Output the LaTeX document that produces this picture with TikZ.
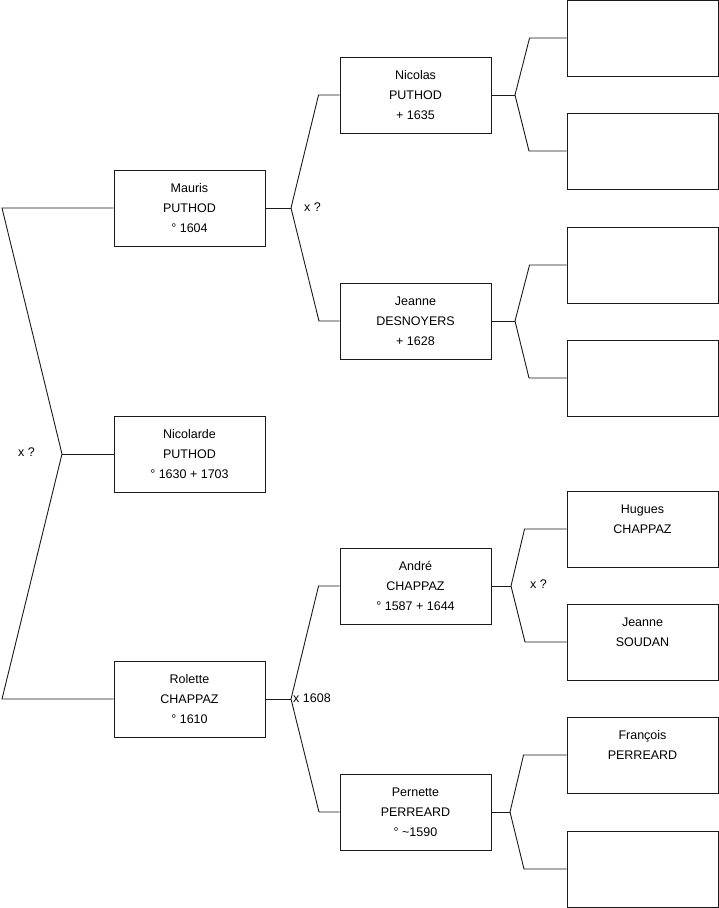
\documentclass[tikz,border=0pt]{standalone}
\usepackage{fontspec}
\setmainfont{Liberation Sans}
\definecolor{ink}{HTML}{1A1A1A}
\tikzset{
  person/.style={draw=ink, line width=0.9pt, minimum width=151pt, minimum height=76pt,
    inner sep=0pt, align=center, font=\fontsize{12.5}{20}\selectfont},
  link/.style={ink, line width=0.9pt},
  union/.style={anchor=west, inner sep=0pt, font=\fontsize{12.5}{15}\selectfont}
}

\begin{document}
\begin{tikzpicture}[x=1pt,y=-1pt]
  \useasboundingbox (0,0) rectangle (719,908);

  % generation 1
  \node[person] (mauris) at (189.5,208) {Mauris\\PUTHOD\\° 1604};
  \node[person] (nicolarde) at (189.5,454) {Nicolarde\\PUTHOD\\° 1630 + 1703};
  \node[person] (rolette) at (189.5,699) {Rolette\\CHAPPAZ\\° 1610};

  % generation 2
  \node[person] (nicolas) at (415.5,95) {Nicolas\\PUTHOD\\+ 1635};
  \node[person] (jeanneD) at (415.5,321) {Jeanne\\DESNOYERS\\+ 1628};
  \node[person] (andre) at (415.5,586) {André\\CHAPPAZ\\° 1587 + 1644};
  \node[person] (pernette) at (415.5,812) {Pernette\\PERREARD\\° \textasciitilde 1590};

  % generation 3
  \node[person] (gpA) at (642.5,38) {};
  \node[person] (gpB) at (642.5,151) {};
  \node[person] (gpC) at (642.5,265) {};
  \node[person] (gpD) at (642.5,378) {};
  \node[person] (hugues) at (642.5,529) {Hugues\\CHAPPAZ\\\mbox{}};
  \node[person] (jeanneS) at (642.5,642) {Jeanne\\SOUDAN\\\mbox{}};
  \node[person] (francois) at (642.5,755) {François\\PERREARD\\\mbox{}};
  \node[person] (gpH) at (642.5,869) {};

  % root fork
  \coordinate (rootTop) at (2,208);
  \coordinate (rootMid) at (62,454);
  \coordinate (rootBot) at (2,699);
  \draw[link] (mauris.west) -- (rootTop) -- (rootMid) -- (rootBot) -- (rolette.west);
  \draw[link] (rootMid) -- (nicolarde.west);
  \node[union] (uRoot) at (18,452) {x ?};

  % Mauris parents
  \coordinate (fMauris) at (291,208);
  \draw[link] (mauris.east) -- (fMauris);
  \draw[link] (nicolas.west) -- ++(-21,0) -- (fMauris) -- (319,321) -- (jeanneD.west);
  \node[union] (uMauris) at (304,207) {x ?};

  % Rolette parents
  \coordinate (fRolette) at (291,699);
  \draw[link] (rolette.east) -- (fRolette);
  \draw[link] (andre.west) -- ++(-21,0) -- (fRolette) -- (319,812) -- (pernette.west);
  \node[union] (uRolette) at (293,698) {x 1608};

  % Nicolas parents
  \coordinate (fNicolas) at (515,95);
  \draw[link] (nicolas.east) -- (fNicolas);
  \draw[link] (gpA.west) -- ++(-37,0) -- (fNicolas) -- (529,151) -- (gpB.west);

  % Jeanne Desnoyers parents
  \coordinate (fJeanne) at (515,321);
  \draw[link] (jeanneD.east) -- (fJeanne);
  \draw[link] (gpC.west) -- ++(-37,0) -- (fJeanne) -- (529,378) -- (gpD.west);

  % André parents
  \coordinate (fAndre) at (511,586);
  \draw[link] (andre.east) -- (fAndre);
  \draw[link] (hugues.west) -- ++(-42,0) -- (fAndre) -- (525,642) -- (jeanneS.west);
  \node[union] (uAndre) at (530,584) {x ?};

  % Pernette parents
  \coordinate (fPernette) at (510,812);
  \draw[link] (pernette.east) -- (fPernette);
  \draw[link] (francois.west) -- ++(-43,0) -- (fPernette) -- (524,869) -- (gpH.west);

\end{tikzpicture}
\end{document}
